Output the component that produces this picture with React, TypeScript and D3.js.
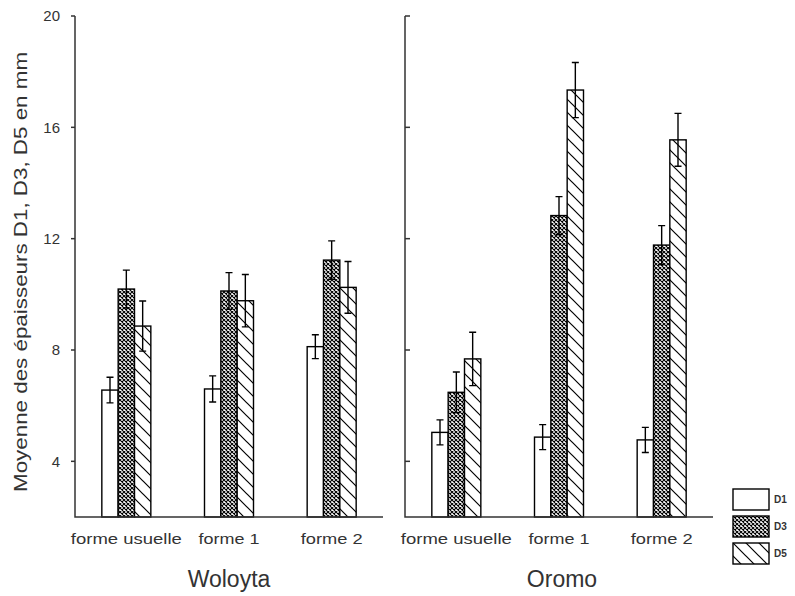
import * as d3 from "d3";

const categories = ["forme usuelle", "forme 1", "forme 2"];
const series = ["D1", "D3", "D5"];
const panels = ["Woloyta", "Oromo"];
const yTicks = [4, 8, 12, 16, 20];

// means per panel, per series, per category
const woloytaD1 = [6.56, 6.6, 8.12];
const woloytaD3 = [10.19, 10.12, 11.23];
const woloytaD5 = [8.86, 9.77, 10.25];
const woloytaErrD1 = [0.46, 0.47, 0.43];
const woloytaErrD3 = [0.68, 0.66, 0.69];
const woloytaErrD5 = [0.9, 0.94, 0.93];

const oromoD1 = [5.04, 4.87, 4.77];
const oromoD3 = [6.48, 12.83, 11.77];
const oromoD5 = [7.68, 17.34, 15.55];
const oromoErrD1 = [0.45, 0.45, 0.45];
const oromoErrD3 = [0.73, 0.68, 0.7];
const oromoErrD5 = [0.96, 0.99, 0.95];

const means = [
  [woloytaD1, woloytaD3, woloytaD5],
  [oromoD1, oromoD3, oromoD5],
];
const errors = [
  [woloytaErrD1, woloytaErrD3, woloytaErrD5],
  [oromoErrD1, oromoErrD3, oromoErrD5],
];

const fills = ["#fff", "url(#cross)", "url(#diag)"];
const labelLengths = [111, 61, 62];

export default function App() {
  const width = 795;
  const height = 596;
  const panelLeft = [75, 405];
  const panelWidth = 308;

  const y = d3.scaleLinear().domain([2, 20]).range([517, 16]);
  const inner = d3.scaleBand().domain(series).range([-24.5, 24.5]);

  return (
    <svg
      width={width}
      height={height}
      style={{ position: "absolute", left: 0, top: 0, background: "#fff" }}
      fontFamily="Liberation Sans, Arial, sans-serif"
    >
      <defs>
        <pattern id="cross" patternUnits="userSpaceOnUse" width={4} height={4}>
          <rect width={4} height={4} fill="#fff" />
          <path d="M0,0L4,4M4,0L0,4" stroke="#000" strokeWidth={1.1} />
        </pattern>
        <pattern id="diag" patternUnits="userSpaceOnUse" width={13} height={13}>
          <rect width={13} height={13} fill="#fff" />
          <path d="M0,0L13,13M-6.5,6.5L6.5,19.5M6.5,-6.5L19.5,6.5" stroke="#000" strokeWidth={1.2} />
        </pattern>
      </defs>

      <text
        transform={`translate(27,272) rotate(-90)`}
        textAnchor="middle"
        fontSize={19}
        fill="#333"
        textLength={440}
        lengthAdjust="spacingAndGlyphs"
      >
        Moyenne des épaisseurs D1, D3, D5 en mm
      </text>

      {panels.map((panel, p) => {
        const x = d3
          .scaleBand()
          .domain(categories)
          .range([panelLeft[p], panelLeft[p] + panelWidth]);
        const left = panelLeft[p];
        return (
          <g key={panel}>
            {categories.map((cat, c) => {
              const cx = (x(cat) as number) + x.bandwidth() / 2;
              return (
                <g key={cat}>
                  {series.map((s, k) => {
                    const v = means[p][k][c];
                    const e = errors[p][k][c];
                    const bx = cx + (inner(s) as number);
                    const mx = bx + inner.bandwidth() / 2;
                    return (
                      <g key={s}>
                        <rect
                          x={bx}
                          y={y(v)}
                          width={inner.bandwidth()}
                          height={y(2) - y(v)}
                          fill={fills[k]}
                          stroke="#000"
                          strokeWidth={1.4}
                        />
                        <path
                          d={`M${mx},${y(v - e)}V${y(v + e)}M${mx - 3.5},${y(v + e)}H${mx + 3.5}M${mx - 3.5},${y(v - e)}H${mx + 3.5}`}
                          stroke="#000"
                          strokeWidth={1.4}
                          fill="none"
                        />
                      </g>
                    );
                  })}
                  <text
                    x={cx}
                    y={544}
                    textAnchor="middle"
                    fontSize={15}
                    fill="#333"
                    textLength={labelLengths[c]}
                    lengthAdjust="spacingAndGlyphs"
                  >
                    {cat}
                  </text>
                </g>
              );
            })}
            <path
              d={`M${left},${y(20)}V${y(2)}H${left + panelWidth}`}
              stroke="#333"
              strokeWidth={1.5}
              fill="none"
            />
            {yTicks.map((t) => (
              <g key={t}>
                <line
                  x1={p === 0 ? left - 4 : left}
                  x2={p === 0 ? left : left + 5}
                  y1={y(t)}
                  y2={y(t)}
                  stroke="#333"
                  strokeWidth={1.5}
                />
                {p === 0 && (
                  <text
                    x={left - 15}
                    y={y(t)}
                    dy="0.35em"
                    textAnchor="end"
                    fontSize={15}
                    fill="#333"
                  >
                    {t}
                  </text>
                )}
              </g>
            ))}
            <text
              x={left + panelWidth / 2 + (p === 0 ? 0 : 3)}
              y={587}
              textAnchor="middle"
              fontSize={23}
              fill="#333"
            >
              {panel}
            </text>
          </g>
        );
      })}

      {series.map((s, k) => (
        <g key={s} transform={`translate(733,${489 + k * 27})`}>
          <rect width={36} height={21} fill={fills[k]} stroke="#000" strokeWidth={1.4} />
          <text x={41} y={10.5} dy="0.35em" fontSize={10} fontWeight="bold" fill="#333">
            {s}
          </text>
        </g>
      ))}
    </svg>
  );
}
